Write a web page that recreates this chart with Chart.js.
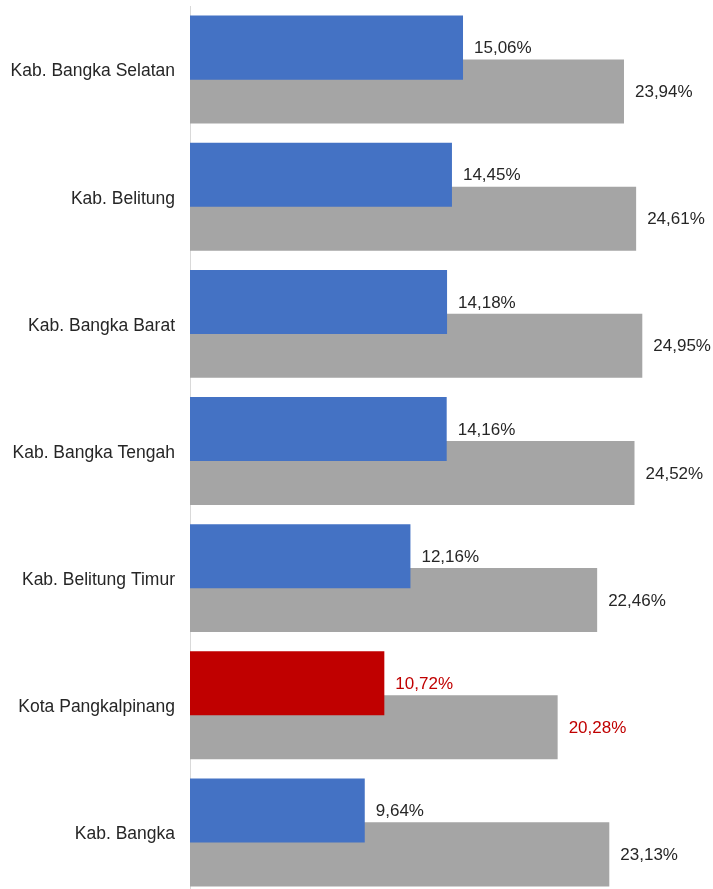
<!DOCTYPE html>
<html>
<head>
<meta charset="utf-8">
<script src="https://cdn.jsdelivr.net/npm/chart.js@4/dist/chart.umd.min.js"></script>
<style>
    html, body { margin: 0; padding: 0; background: #fff; overflow: hidden; }
    #wrap { width: 713px; height: 896px; }
</style>
</head>
<body>
<div id="wrap"><canvas id="barChart" width="713" height="896"></canvas></div>
<script>
const kabupaten = ['Kab. Bangka Selatan', 'Kab. Belitung', 'Kab. Bangka Barat', 'Kab. Bangka Tengah', 'Kab. Belitung Timur', 'Kota Pangkalpinang', 'Kab. Bangka'];
const seriBiru = [15.06, 14.45, 14.18, 14.16, 12.16, 10.72, 9.64];
const seriAbu = [23.94, 24.61, 24.95, 24.52, 22.46, 20.28, 23.13];
const sorotan = 'Kota Pangkalpinang';

const BIRU = '#4472c4', ABU = '#a5a5a5', MERAH = '#c00000', TEKS = '#262626';
const FONT = '"Liberation Sans", Arial, sans-serif';

// warna per batang: kota yang disorot jadi merah
const warnaBiru = kabupaten.map(k => k === sorotan ? MERAH : BIRU);
const warnaLabel = kabupaten.map(k => k === sorotan ? MERAH : TEKS);

function formatPersen(v) {
    return v.toFixed(2).replace('.', ',') + '%';
}

// label nilai di ujung kanan tiap batang
const labelNilai = {
    id: 'labelNilai',
    afterDatasetsDraw(chart) {
        const ctx = chart.ctx;
        ctx.save();
        ctx.font = '17px ' + FONT;
        ctx.textAlign = 'left';
        ctx.textBaseline = 'middle';
        chart.data.datasets.forEach((ds, di) => {
            const meta = chart.getDatasetMeta(di);
            meta.data.forEach((bar, i) => {
                ctx.fillStyle = warnaLabel[i];
                ctx.fillText(formatPersen(ds.data[i]), bar.x + 11, bar.y + 1);
            });
        });
        ctx.restore();
    }
};

new Chart(document.getElementById('barChart').getContext('2d'), {
    type: 'bar',
    data: {
        labels: kabupaten,
        datasets: [
            { label: 'Seri 1', data: seriBiru, backgroundColor: warnaBiru },
            { label: 'Seri 2', data: seriAbu, backgroundColor: ABU }
        ]
    },
    options: {
        indexAxis: 'y',
        responsive: false,
        animation: false,
        categoryPercentage: 0.69,
        barPercentage: 1.46,
        layout: { padding: { top: 6, right: 0, bottom: 0, left: 0 } },
        scales: {
            x: { display: false, min: 0, max: 28.85 },
            y: {
                grid: { display: false, drawTicks: false },
                border: { display: true, color: '#d9d9d9', width: 1 },
                ticks: { color: TEKS, padding: 15, labelOffset: 2, font: { family: FONT, size: 17.5 } },
                afterFit(scale) {
                    scale.width = 190;
                    // label pertama/terakhir tidak perlu ruang ekstra atas-bawah
                    scale.paddingTop = 0;
                    scale.paddingBottom = 0;
                }
            }
        },
        plugins: { legend: { display: false }, tooltip: { enabled: false } }
    },
    plugins: [labelNilai]
});
</script>
</body>
</html>
